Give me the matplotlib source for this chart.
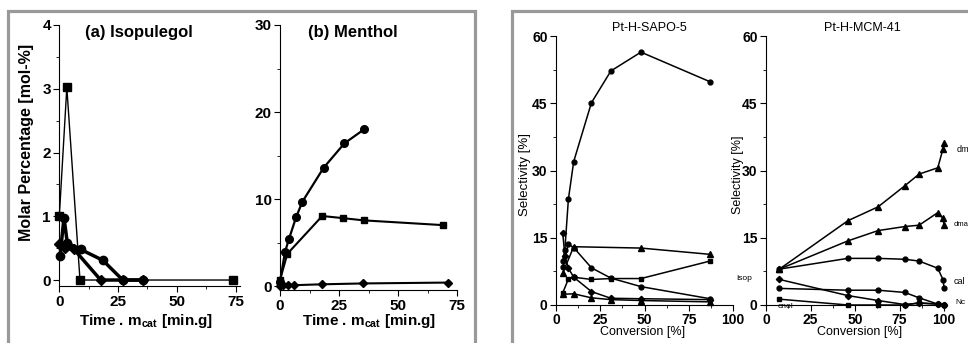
import matplotlib
matplotlib.use("Agg")
import matplotlib.pyplot as plt
from matplotlib.patches import Rectangle
from matplotlib.ticker import MultipleLocator

plt.rcParams['font.family'] = ['Liberation Sans', 'DejaVu Sans']

# (a) Isopulegol, molar percentage vs time*m_cat
iso_t_sq = [0, 3.2, 8.8, 74]
iso_sq = [1.0, 3.02, 0, 0]
iso_t_ci = [0.3, 2.0, 3.4, 9.1, 18.5, 27, 35.5]
iso_ci = [0.37, 0.98, 0.58, 0.48, 0.31, 0, 0]
iso_t_di = [0, 2.5, 6.3, 17.6, 27, 35.5]
iso_di = [0.57, 0.5, 0.48, 0, 0, 0]

# (b) Menthol
men_t_ci = [0, 2.1, 3.8, 6.8, 9.5, 18.5, 27.3, 35.6]
men_ci = [0.5, 3.9, 5.4, 7.9, 9.7, 13.6, 16.4, 18.0]
men_t_sq = [0, 3.1, 17.9, 26.8, 35.4, 69.2]
men_sq = [0.7, 3.7, 8.05, 7.8, 7.55, 7.0]
men_t_di = [0, 1.4, 3.2, 6, 17.8, 35.2, 71.3]
men_di = [0, 0.1, 0.1, 0.1, 0.2, 0.3, 0.4]

# Pt-H-SAPO-5, selectivity vs conversion
sapo_big_x = [3.8, 5, 7, 10, 20, 31, 48, 87]
sapo_big = [9.9, 12.3, 23.6, 32, 45.1, 52.2, 56.4, 49.8]
sapo_di_x = [3.8, 5, 7, 10, 20, 31, 48, 87]
sapo_di = [16.1, 11, 8.2, 6.2, 3.0, 1.5, 1.4, 1.2]
sapo_ci_x = [3.8, 7, 10, 20, 31, 48, 87]
sapo_ci = [8.4, 13.6, 12.8, 8.3, 6.0, 4.1, 1.4]
sapo_tr_x = [3.8, 10, 48, 87]
sapo_tr = [7.1, 13.0, 12.7, 11.3]
sapo_sq_x = [3.8, 7, 10, 20, 31, 48, 87]
sapo_sq = [2.7, 5.8, 6.2, 5.7, 5.9, 5.9, 9.8]
sapo_tr2_x = [3.8, 10, 20, 31, 48, 87]
sapo_tr2 = [2.4, 2.5, 1.6, 1.2, 1.0, 0.7]

# Pt-H-MCM-41
mcm_x = [7.5, 46, 63, 78, 86, 96.5, 99.5, 100]
mcm_dm = [8.0, 18.8, 21.9, 26.6, 29.2, 30.6, 34.9, 36.1]
mcm_dma = [8.0, 14.3, 16.6, 17.5, 17.8, 20.6, 19.3, 17.8]
mcm_cal = [8.0, 10.4, 10.4, 10.2, 9.8, 8.2, 5.6, 3.9]
mcm_x2 = [7.5, 46, 63, 78, 86, 96.5, 100]
mcm_isop = [5.7, 2.1, 1.0, 0.1, 0.4, 0.2, 0]
mcm_nc = [3.7, 3.3, 3.3, 2.8, 1.6, 0.2, 0]
mcm_cnol = [1.3, 0, 0, 0, 0.5, 0.2, 0]

W, H = 968, 343
fig = plt.figure(figsize=(W / 100, H / 100), dpi=100)


def px_rect(x0, x1, ytop, ybot):
    return [x0 / W, (H - ybot) / H, (x1 - x0) / W, (ybot - ytop) / H]


def ftext(x, y, s, **kw):
    fig.text(x / W, 1 - y / H, s, **kw)


# grey frames around the two figure halves
for x0, x1 in [(8, 475), (512, 1000)]:
    fig.patches.append(Rectangle((x0 / W, -0.2), (x1 - x0) / W, 1.2 - 11 / H,
                                 transform=fig.transFigure, fill=False,
                                 edgecolor='#999999', linewidth=2.3, clip_on=False))


def style(ax, fs, bold):
    for s in ['top', 'right']:
        ax.spines[s].set_visible(False)
    for s in ['left', 'bottom']:
        ax.spines[s].set_linewidth(0.8)
    ax.tick_params(which='major', direction='out', length=4, width=0.8, labelsize=fs, pad=2)
    ax.tick_params(which='minor', direction='out', length=2, width=0.6)
    for lab in ax.get_xticklabels() + ax.get_yticklabels():
        lab.set_fontweight('bold' if bold else 'normal')
    ax.patch.set_alpha(0)


# ---- left half ----
ax_a = fig.add_axes(px_rect(59.3, 240.3, 25, 286.4))
ax_a.plot(iso_t_sq, iso_sq, 'k-s', lw=1.0, ms=5.5, clip_on=False)
ax_a.plot(iso_t_ci, iso_ci, 'k-o', lw=2.5, ms=6, clip_on=False)
ax_a.plot(iso_t_di, iso_di, 'k-D', lw=2.5, ms=5, clip_on=False)
ax_a.set_xlim(0, 77)
ax_a.set_ylim(-0.1, 4)
ax_a.set_xticks([0, 25, 50, 75])
ax_a.set_yticks([0, 1, 2, 3, 4])
ax_a.xaxis.set_minor_locator(MultipleLocator(12.5))
ax_a.yaxis.set_minor_locator(MultipleLocator(0.5))
style(ax_a, 11, True)

ax_b = fig.add_axes(px_rect(280, 457, 25, 290.4))
ax_b.plot(men_t_ci, men_ci, 'k-o', lw=1.6, ms=5.5, clip_on=False)
ax_b.plot(men_t_sq, men_sq, 'k-s', lw=1.5, ms=5, clip_on=False)
ax_b.plot(men_t_di, men_di, 'k-D', lw=1.5, ms=4.5, clip_on=False)
ax_b.set_xlim(0, 75)
ax_b.set_ylim(-0.5, 30)
ax_b.set_xticks([0, 25, 50, 75])
ax_b.set_yticks([0, 10, 20, 30])
ax_b.xaxis.set_minor_locator(MultipleLocator(12.5))
ax_b.yaxis.set_minor_locator(MultipleLocator(5))
style(ax_b, 11, True)

ftext(85, 33, '(a) Isopulegol', fontsize=12, fontweight='bold', ha='left', va='center')
ftext(308, 33, '(b) Menthol', fontsize=12, fontweight='bold', ha='left', va='center')
ftext(27, 142, 'Molar Percentage [mol-%]', fontsize=11.5, fontweight='bold',
      rotation=90, ha='center', va='center')
ftext(146, 321, 'Time . m$_{\\mathregular{cat}}$ [min.g]', fontsize=11, fontweight='bold',
      ha='center', va='center')
ftext(369, 321, 'Time . m$_{\\mathregular{cat}}$ [min.g]', fontsize=11, fontweight='bold',
      ha='center', va='center')

# ---- right half ----
ax_s = fig.add_axes(px_rect(556, 733, 36, 305))
ax_s.plot(sapo_big_x, sapo_big, 'k-o', lw=1.1, ms=3.5, clip_on=False)
ax_s.plot(sapo_di_x, sapo_di, 'k-D', lw=1.1, ms=3.2, clip_on=False)
ax_s.plot(sapo_ci_x, sapo_ci, 'k-o', lw=1.1, ms=3.5, clip_on=False)
ax_s.plot(sapo_tr_x, sapo_tr, 'k-^', lw=1.1, ms=3.8, clip_on=False)
ax_s.plot(sapo_sq_x, sapo_sq, 'k-s', lw=1.1, ms=3.5, clip_on=False)
ax_s.plot(sapo_tr2_x, sapo_tr2, 'k-^', lw=1.1, ms=3.8, clip_on=False)

ax_m = fig.add_axes(px_rect(766, 944, 36, 305))
ax_m.plot(mcm_x, mcm_dm, 'k-^', lw=1.1, ms=3.8, clip_on=False)
ax_m.plot(mcm_x, mcm_dma, 'k-^', lw=1.1, ms=3.8, clip_on=False)
ax_m.plot(mcm_x, mcm_cal, 'k-o', lw=1.1, ms=3.5, clip_on=False)
ax_m.plot(mcm_x2, mcm_isop, 'k-D', lw=1.1, ms=3.2, clip_on=False)
ax_m.plot(mcm_x2, mcm_nc, 'k-o', lw=1.1, ms=3.5, clip_on=False)
ax_m.plot(mcm_x2, mcm_cnol, 'k-s', lw=1.1, ms=3.2, clip_on=False)

for ax in (ax_s, ax_m):
    ax.set_xlim(0, 100)
    ax.set_ylim(0, 60)
    ax.set_xticks([0, 25, 50, 75, 100])
    ax.set_yticks([0, 15, 30, 45, 60])
    ax.xaxis.set_minor_locator(MultipleLocator(12.5))
    ax.yaxis.set_minor_locator(MultipleLocator(7.5))
    style(ax, 10, True)

ftext(649, 28, 'Pt-H-SAPO-5', fontsize=9, ha='center', va='center')
ftext(862, 28, 'Pt-H-MCM-41', fontsize=9, ha='center', va='center')
ftext(525, 175, 'Selectivity [%]', fontsize=9.5, rotation=90, ha='center', va='center')
ftext(738, 175, 'Selectivity [%]', fontsize=9, rotation=90, ha='center', va='center')
ftext(643, 332, 'Conversion [%]', fontsize=9, ha='center', va='center')
ftext(860, 332, 'Conversion [%]', fontsize=9, ha='center', va='center')

# curve labels in the MCM panel
ftext(752, 278, 'Isop', fontsize=6, ha='right', va='center')
ftext(785, 306, 'cnol', fontsize=6, ha='center', va='center')
ftext(957, 150, 'dm', fontsize=6.5, ha='left', va='center')
ftext(954, 225, 'dma', fontsize=5.5, ha='left', va='center')
ftext(954, 282, 'cal', fontsize=6.5, ha='left', va='center')
ftext(955, 303, 'Nc', fontsize=6, ha='left', va='center')

fig.savefig('out.png', dpi=100, facecolor='white')
